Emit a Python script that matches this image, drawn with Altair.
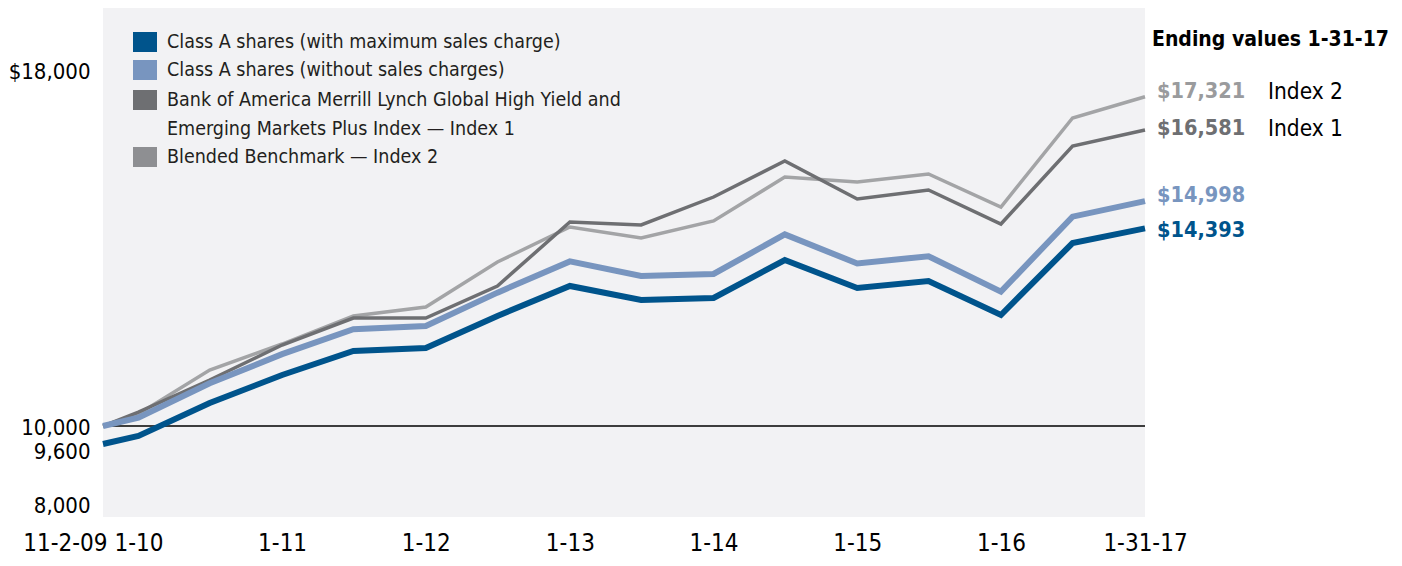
import altair as alt
import pandas as pd

# ---------------- data ----------------
dates = ["2009-11-02", "2010-01-31", "2010-07-31", "2011-01-31", "2011-07-31",
         "2012-01-31", "2012-07-31", "2013-01-31", "2013-07-31", "2014-01-31",
         "2014-07-31", "2015-01-31", "2015-07-31", "2016-01-31", "2016-07-31",
         "2017-01-31"]

class_a_max = [9600, 9778, 10511, 11134, 11667, 11734, 12446, 13113, 12801, 12846,
               13690, 13068, 13224, 12468, 14068, 14393]
class_a_nosc = [10000, 10185, 10949, 11598, 12153, 12223, 12965, 13659, 13334, 13381,
                14260, 13613, 13775, 12988, 14654, 14998]
index_1 = [10000, 10311, 11023, 11800, 12401, 12401, 13113, 14535, 14469, 15091,
           15891, 15047, 15247, 14491, 16225, 16581]
index_2 = [10000, 10267, 11245, 11823, 12446, 12646, 13646, 14424, 14180, 14558,
           15536, 15425, 15602, 14869, 16847, 17321]

series_names = ["Class A shares (with maximum sales charge)",
                "Class A shares (without sales charges)",
                "Bank of America Merrill Lynch Global High Yield and Emerging Markets Plus Index — Index 1",
                "Blended Benchmark — Index 2"]
series_values = [class_a_max, class_a_nosc, index_1, index_2]
short_names = ["", "", "Index 1", "Index 2"]

legend_lines = [["Class A shares (with maximum sales charge)"],
                ["Class A shares (without sales charges)"],
                ["Bank of America Merrill Lynch Global High Yield and",
                 "Emerging Markets Plus Index — Index 1"],
                ["Blended Benchmark — Index 2"]]

y_tick_values = [8000, 9600, 10000, 18000]
x_tick_dates = ["2009-11-02", "2010-01-31", "2011-01-31", "2012-01-31", "2013-01-31",
                "2014-01-31", "2015-01-31", "2016-01-31", "2017-01-31"]
ending_title = "Ending values 1-31-17"

# ---------------- styles ----------------
FONT = "DejaVu Sans Condensed, Liberation Sans Narrow, sans-serif"
line_colors = ["#00548C", "#7895BF", "#6E6F72", "#A3A4A6"]
swatch_colors = ["#00548C", "#7895BF", "#6E6F72", "#8E8F92"]
label_colors = ["#00548C", "#7895BF", "#6E6F72", "#9A9B9D"]
line_widths = [6, 6, 3.5, 3.5]
label_dy = [3, -5, -1, -5]

rows = []
for name, vals in zip(series_names, series_values):
    for d, v in zip(dates, vals):
        rows.append({"series": name, "date": d, "value": v})
df = pd.DataFrame(rows)
last = df[df["date"] == dates[-1]].copy()

W, H = 1042, 509
y_scale = alt.Scale(domain=[7977, 19293], nice=False, zero=False)
x_scale = alt.Scale(type="utc", domain=[dates[0], dates[-1]], nice=False)


def ms(d):
    return int(pd.Timestamp(d, tz="UTC").timestamp() * 1000)


t_first, t_last = ms(x_tick_dates[0]), ms(x_tick_dates[-1])
x_vals = [ms(d) for d in x_tick_dates]

x_axis = alt.Axis(
    values=x_vals, title=None, grid=False, domain=False, ticks=False,
    labelFlush=False, labelOverlap=False, labelFontSize=24, labelFont=FONT,
    labelColor="#000000", labelPadding=14,
    labelExpr=(f"(time(datum.value) == {t_first} || time(datum.value) == {t_last}) ? "
               f"utcFormat(datum.value, '%-m-%-d-%y') : utcFormat(datum.value, '%-m-%y')"),
    labelAlign={"condition": {"test": f"time(datum.value) == {t_first}", "value": "right"},
                "value": "center"},
    labelOffset={"condition": {"test": f"time(datum.value) == {t_first}", "value": 4},
                 "value": 0},
)
y_axis = alt.Axis(
    values=y_tick_values, title=None, grid=False, domain=False, ticks=False,
    labelOverlap=False, labelFontSize=22, labelFont=FONT, labelColor="#000000",
    labelPadding=13,
    labelExpr="datum.value == 18000 ? '$18,000' : format(datum.value, ',')",
    labelOffset={"condition": [
        {"test": "datum.value == 9600", "value": 8},
        {"test": "datum.value == 8000", "value": -10},
        {"test": "datum.value == 18000", "value": 5}],
        "value": 1},
)

base = alt.Chart(df)

rule = alt.Chart(pd.DataFrame({"v": [10000]})).mark_rule(
    color="#000000", strokeWidth=1.5).encode(
    y=alt.Y("v:Q", scale=y_scale, axis=y_axis))

layers = [rule]
for i in [3, 2, 1, 0]:
    name = series_names[i]
    layers.append(
        base.transform_filter(alt.datum.series == name).mark_line(
            color=line_colors[i], strokeWidth=line_widths[i], strokeJoin="miter",
            strokeCap="butt").encode(
            x=alt.X("date:T", scale=x_scale, axis=x_axis),
            y=alt.Y("value:Q", scale=y_scale, axis=y_axis),
        ))

for i in range(4):
    name = series_names[i]
    layers.append(
        alt.Chart(last[last["series"] == name]).mark_text(
            align="left", baseline="middle", dx=12, dy=label_dy[i], fontSize=21.5,
            fontWeight="bold", font=FONT, color=label_colors[i]).encode(
            x=alt.X("date:T", scale=x_scale),
            y=alt.Y("value:Q", scale=y_scale),
            text=alt.Text("value:Q", format="$,.0f"),
        ))
    if short_names[i]:
        layers.append(
            alt.Chart(last[last["series"] == name].assign(short=short_names[i])).mark_text(
                align="left", baseline="middle", dx=123, dy=label_dy[i], fontSize=22.5,
                font=FONT, color="#000000").encode(
                x=alt.X("date:T", scale=x_scale),
                y=alt.Y("value:Q", scale=y_scale),
                text="short:N",
            ))

one = pd.DataFrame({"a": [0]})
layers.append(alt.Chart(one).mark_text(
    align="left", baseline="middle", fontSize=21, fontWeight="bold", font=FONT,
    color="#000000").encode(x=alt.value(1049), y=alt.value(32),
                            text=alt.value(ending_title)))

# legend
row_y = [34, 62, 92, 149]
for i in range(4):
    cy = row_y[i]
    layers.append(alt.Chart(one).mark_rect(color=swatch_colors[i]).encode(
        x=alt.value(30), x2=alt.value(54), y=alt.value(cy - 10), y2=alt.value(cy + 10)))
    for k, txt in enumerate(legend_lines[i]):
        layers.append(alt.Chart(one).mark_text(
            align="left", baseline="middle", fontSize=19.5, font=FONT,
            color="#231F20").encode(x=alt.value(64), y=alt.value(cy + 29 * k),
                                    text=alt.value(txt)))

chart = alt.layer(*layers).properties(
    width=W, height=H,
    autosize=alt.AutoSizeParams(type="none"),
    padding={"left": 95, "top": 0, "right": 249, "bottom": 41},
).configure_view(fill="#F2F2F4", stroke=None)

chart.save("out.html", embed_options={"renderer": "svg", "actions": False})
